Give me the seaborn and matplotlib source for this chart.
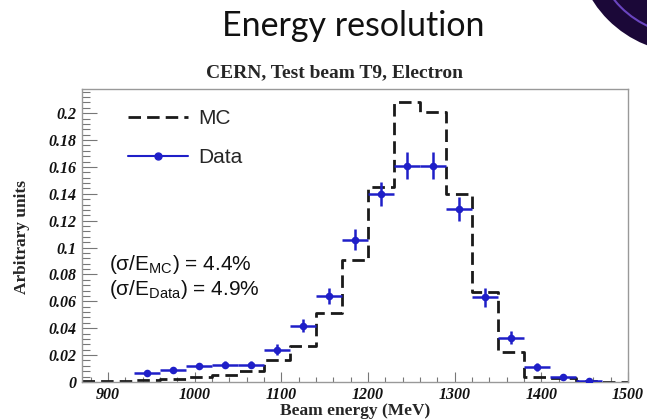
import numpy as np
import pandas as pd
import seaborn as sns
import matplotlib
matplotlib.use("Agg")
import matplotlib.pyplot as plt
from matplotlib.ticker import MultipleLocator, FixedLocator
from matplotlib.patches import Ellipse

# Histogram binning (MeV): 30 MeV bins from 870 to 1500
bin_width = 30
mc_bin_lo = [870, 900, 930, 960, 990, 1020, 1050, 1080, 1110, 1140, 1170,
             1200, 1230, 1260, 1290, 1320, 1350, 1380, 1410, 1440, 1470]
mc_values = [0.0005, 0.0005, 0.0015, 0.002, 0.004, 0.005, 0.008, 0.016, 0.027,
             0.051, 0.091, 0.145, 0.208, 0.201, 0.140, 0.067, 0.022, 0.004,
             0.003, 0.001, 0.0003]

data_centers = [945, 975, 1005, 1035, 1065, 1095, 1125, 1155, 1185, 1215,
                1245, 1275, 1305, 1335, 1365, 1395, 1425, 1455]
data_values = [0.0065, 0.009, 0.012, 0.013, 0.0128, 0.024, 0.042, 0.064, 0.106,
               0.140, 0.161, 0.161, 0.129, 0.063, 0.033, 0.011, 0.004, 0.0005]
data_errors = [0.002, 0.002, 0.0025, 0.0025, 0.0025, 0.004, 0.005, 0.006, 0.008,
               0.009, 0.010, 0.010, 0.009, 0.007, 0.005, 0.003, 0.002, 0.001]

x_ticks = [900, 1000, 1100, 1200, 1300, 1400, 1500]
y_ticks = [0, 0.02, 0.04, 0.06, 0.08, 0.1, 0.12, 0.14, 0.16, 0.18, 0.2]
y_tick_labels = ["0", "0.02", "0.04", "0.06", "0.08", "0.1", "0.12", "0.14",
                 "0.16", "0.18", "0.2"]

sns.set_theme(style="white")
plt.rcParams["mathtext.default"] = "regular"

fig = plt.figure(figsize=(6.47, 4.2), dpi=100)
ax = fig.add_axes([82 / 647, 1 - 382 / 420, (628 - 82) / 647, (382 - 89) / 420])

# MC: step histogram (repeat last value so the final bin closes at 1500)
mc_df = pd.DataFrame({
    "energy": mc_bin_lo + [mc_bin_lo[-1] + bin_width],
    "value": mc_values + [mc_values[-1]],
})
dash = (0, (4.5, 2.2))
sns.lineplot(data=mc_df, x="energy", y="value", ax=ax, drawstyle="steps-post",
             color="#1a1a1a", lw=2.0, linestyle=dash, sort=False,
             estimator=None, legend=False)

# Data with bin-width horizontal bars and statistical vertical bars
blue = "#1f1fc8"
data_df = pd.DataFrame({"energy": data_centers, "value": data_values,
                        "err": data_errors})
ax.errorbar(data_df["energy"], data_df["value"], xerr=bin_width / 2,
            yerr=data_df["err"], fmt="none", ecolor=blue, elinewidth=1.8,
            capsize=0, zorder=3)
sns.scatterplot(data=data_df, x="energy", y="value", ax=ax, color=blue,
                s=30, edgecolor=blue, linewidth=0, zorder=4, legend=False)

ax.set_xlim(870, 1500)
ax.set_ylim(0, 0.218)

ax.xaxis.set_major_locator(FixedLocator(x_ticks))
ax.xaxis.set_minor_locator(MultipleLocator(20))
ax.yaxis.set_major_locator(FixedLocator(y_ticks))
ax.yaxis.set_minor_locator(MultipleLocator(0.004))
ax.set_yticklabels(y_tick_labels)
ax.set_xticklabels([str(t) for t in x_ticks])

for lbl in ax.get_xticklabels() + ax.get_yticklabels():
    lbl.set_fontfamily("Liberation Serif")
    lbl.set_fontweight("bold")
    lbl.set_fontstyle("italic")
    lbl.set_fontsize(11.5)
    lbl.set_color("#111111")

ax.tick_params(axis="y", which="major", direction="in", length=11, width=0.8,
               color="#777777", left=True, right=False, pad=4)
ax.tick_params(axis="y", which="minor", direction="in", length=6, width=0.8,
               color="#777777", left=True, right=False)
ax.tick_params(axis="x", which="major", direction="in", length=7, width=0.8,
               color="#777777", bottom=True, top=False, pad=3.5)
ax.tick_params(axis="x", which="minor", direction="in", length=3.5, width=0.8,
               color="#777777", bottom=True, top=False)

for side in ["left", "bottom", "top", "right"]:
    ax.spines[side].set_color("#999999")
    ax.spines[side].set_linewidth(1.0)

ax.set_xlabel("")
ax.set_ylabel("")
fig.text(22 / 647, 1 - 237 / 420, "Arbitrary units", rotation=90,
         ha="center", va="center", family="Liberation Serif", weight="bold",
         size=12.5)
fig.text(355 / 647, 1 - 411 / 420, "Beam energy (MeV)", ha="center",
         va="center", family="Liberation Serif", weight="bold", size=12.5)

fig.text(335 / 647, 1 - 73 / 420, "CERN, Test beam T9, Electron",
         ha="center", va="center", family="Liberation Serif", weight="bold",
         size=14)

# Legend: MC dashed, Data with point marker
handles = [
    plt.Line2D([], [], color="#1a1a1a", lw=2.0, linestyle=dash),
    plt.Line2D([], [], color=blue, lw=1.5, marker="o", markersize=5),
]
ax.legend(handles, ["MC", "Data"], loc="upper left", frameon=False,
          prop=dict(family="Liberation Sans", size=15), handlelength=2.9,
          handletextpad=0.45, labelspacing=0.95,
          bbox_to_anchor=(0.05, 0.995))

ax.text(0.05, 0.40, "(σ/E$_{MC}$) = 4.4%", transform=ax.transAxes,
        family="Liberation Sans", size=15, va="center", color="#111111")
ax.text(0.05, 0.314, "(σ/E$_{Data}$) = 4.9%", transform=ax.transAxes,
        family="Liberation Sans", size=15, va="center", color="#111111")

# Slide heading
fig.text(353 / 647, 1 - 26 / 420, "Energy resolution", ha="center",
         va="center", family="Lato", size=24.5, color="#111111")

# Corner emblem
cx, cy = 688 / 647, 1 + 60 / 420
fig.patches.append(Ellipse((cx, cy), 226 / 647, 226 / 420,
                           transform=fig.transFigure, facecolor="#1b0838",
                           edgecolor="none"))
fig.patches.append(Ellipse((cx, cy), 190 / 647, 190 / 420,
                           transform=fig.transFigure, facecolor="none",
                           edgecolor="#6a45c0", lw=1.5))

fig.savefig("out.png", dpi=100)
